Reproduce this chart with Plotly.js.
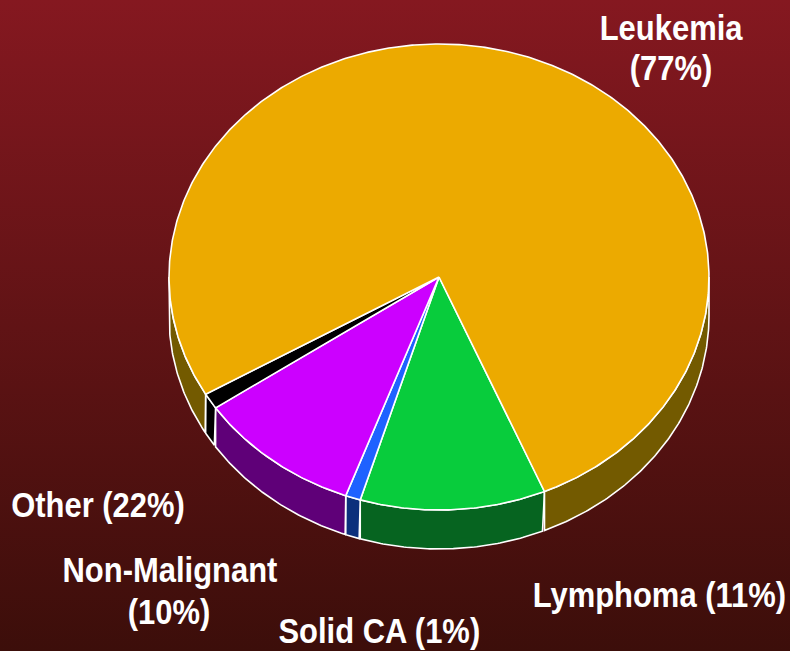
<!DOCTYPE html>
<html><head><meta charset="utf-8">
<script src="https://cdn.plot.ly/plotly-3.0.1.min.js"></script>
<style>html,body{margin:0;padding:0;width:790px;height:651px;overflow:hidden;background:linear-gradient(#851820,#3c0e0a);}#c{width:790px;height:651px}</style>
</head><body><div id="c"></div>
<script>
var categories=['Lymphoma','Solid CA','Non-Malignant','Other','Leukemia'];
var values=[11.1,0.9,9.9,1.1,77];
var topColors=['#08cc3c','#1f62ff','#cc00ff','#000000','#ecaa00'];
var sideColors=['#066420','#0c2f7c','#5f0078','#000000','#735a00'];
var labelTexts=['Lymphoma (11%)','Solid CA (1%)','Non-Malignant','(10%)','Other (22%)','Leukemia','(77%)'];
var labelX=[659,379,170,169,98,671,671], labelY=[594,630,569,611,504,27,68];
var startAngle=157;
var rx=270, ry=233, depth=39;
var condense=0.86;
function pt(deg,z){var r=deg*Math.PI/180;return [rx*Math.sin(r),ry*Math.cos(r)-z];}
var total=values.reduce(function(a,b){return a+b;},0);
var traces=[],a=startAngle,segs=[];
values.forEach(function(v,i){var s=v/total*360;segs.push([a,a+s,i]);a+=s;});
segs.forEach(function(sg){
  var lo=Math.max(sg[0],90),hi=Math.min(sg[1],270);
  var los=[[lo,hi]];
  if(sg[1]>450){los.push([450,Math.min(sg[1],630)]);}
  los.forEach(function(r){
    if(r[1]<=r[0])return;
    var xs=[],ys=[],t;
    for(t=r[0];t<=r[1];t+=0.5){var p=pt(t,0);xs.push(p[0]);ys.push(p[1]);}
    var e=pt(r[1],0);xs.push(e[0]);ys.push(e[1]);
    e=pt(r[1],depth);xs.push(e[0]);ys.push(e[1]);
    for(t=r[1];t>=r[0];t-=0.5){var q=pt(t,depth);xs.push(q[0]);ys.push(q[1]);}
    xs.push(xs[0]);ys.push(ys[0]);
    traces.push({type:'scatter',mode:'lines',x:xs,y:ys,fill:'toself',fillcolor:sideColors[sg[2]],line:{color:'#ffffff',width:1.6},hoverinfo:'skip',showlegend:false});
  });
});
segs.forEach(function(sg){
  var xs=[0],ys=[0],t;
  for(t=sg[0];t<sg[1];t+=0.5){var p=pt(t,0);xs.push(p[0]);ys.push(p[1]);}
  var e=pt(sg[1],0);xs.push(e[0],0);ys.push(e[1],0);
  traces.push({type:'scatter',mode:'lines',name:categories[sg[2]],x:xs,y:ys,fill:'toself',fillcolor:topColors[sg[2]],line:{color:'#ffffff',width:1.6},hoverinfo:'name',showlegend:false});
});
var cx=439,cy=277;
var annotations=labelTexts.map(function(t,i){return {xref:'paper',yref:'paper',x:labelX[i]/790,y:1-labelY[i]/651,text:'<b>'+t+'</b>',showarrow:false,xanchor:'center',yanchor:'middle',align:'center',font:{family:'"Liberation Sans"',size:36,color:'#ffffff'}};});
var layout={width:790,height:651,margin:{l:0,r:0,t:0,b:0},paper_bgcolor:'rgba(0,0,0,0)',plot_bgcolor:'rgba(0,0,0,0)',showlegend:false,
 xaxis:{range:[-cx,790-cx],visible:false,fixedrange:true},
 yaxis:{range:[cy-651,cy],visible:false,fixedrange:true},annotations:annotations};
Plotly.newPlot('c',traces,layout,{displayModeBar:false,staticPlot:true}).then(function(gd){
  gd.querySelectorAll('.annotation-text').forEach(function(t){
    var b=t.getBBox(), x=b.x+b.width/2;
    t.setAttribute('transform','translate('+x+',0) scale('+condense+',1) translate('+(-x)+',0)');
  });
});
</script></body></html>
